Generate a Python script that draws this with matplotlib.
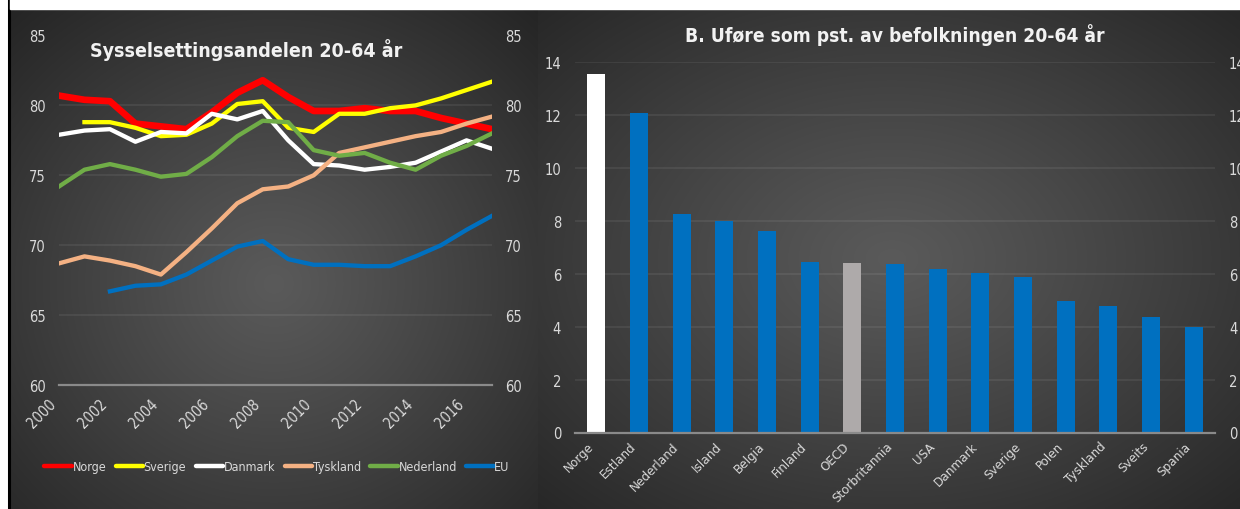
import numpy as np
import matplotlib
matplotlib.use("Agg")
import matplotlib.pyplot as plt
from matplotlib import font_manager
from matplotlib.lines import Line2D

# ---------------- data ----------------
years = list(range(2000, 2018))
nan = np.nan
norge = [80.7, 80.4, 80.3, 78.7, 78.5, 78.3, 79.5, 80.9, 81.8, 80.6, 79.6, 79.6, 79.8, 79.6, 79.6, 79.1, 78.7, 78.3]
sverige = [nan, 78.8, 78.8, 78.4, 77.8, 77.9, 78.7, 80.1, 80.3, 78.4, 78.1, 79.4, 79.4, 79.8, 80.0, 80.5, 81.1, 81.7]
danmark = [77.9, 78.2, 78.3, 77.4, 78.1, 78.0, 79.4, 79.0, 79.6, 77.5, 75.8, 75.7, 75.4, 75.6, 75.9, 76.7, 77.5, 76.9]
tyskland = [68.7, 69.2, 68.9, 68.5, 67.9, 69.5, 71.2, 73.0, 74.0, 74.2, 75.0, 76.6, 77.0, 77.4, 77.8, 78.1, 78.7, 79.2]
nederland = [74.2, 75.4, 75.8, 75.4, 74.9, 75.1, 76.3, 77.8, 78.9, 78.8, 76.8, 76.4, 76.6, 75.9, 75.4, 76.4, 77.1, 78.0]
eu = [nan, nan, 66.7, 67.1, 67.2, 67.9, 68.9, 69.9, 70.3, 69.0, 68.6, 68.6, 68.5, 68.5, 69.2, 70.0, 71.1, 72.1]
series_names = ["Norge", "Sverige", "Danmark", "Tyskland", "Nederland", "EU"]
series_values = [norge, sverige, danmark, tyskland, nederland, eu]
series_colors = ["#FF0000", "#FFFF00", "#FFFFFF", "#F4B183", "#70AD47", "#0070C0"]
year_ticks = list(range(2000, 2017, 2))
left_yticks = [60, 65, 70, 75, 80, 85]

countries = ["Norge", "Estland", "Nederland", "Island", "Belgia", "Finland", "OECD",
             "Storbritannia", "USA", "Danmark", "Sverige", "Polen", "Tyskland", "Sveits", "Spania"]
ufore = [13.55, 12.07, 8.28, 8.0, 7.62, 6.45, 6.4, 6.37, 6.17, 6.05, 5.87, 4.97, 4.77, 4.35, 3.98]
bar_colors = ["#FFFFFF"] + ["#0070C0"] * 5 + ["#AEAAAA"] + ["#0070C0"] * 8
right_yticks = [0, 2, 4, 6, 8, 10, 12, 14]

title_left = "Sysselsettingsandelen 20-64 år"
title_right = "B. Uføre som pst. av befolkningen 20-64 år"

# ---------------- fonts ----------------
entries = font_manager.fontManager.ttflist
names = {f.name for f in entries}
stretch_kw = {}
if "Liberation Sans Narrow" in names:
    FONT = "Liberation Sans Narrow"
elif any(f.name == "DejaVu Sans" and str(f.stretch) == "condensed" for f in entries):
    FONT = "DejaVu Sans"
    stretch_kw = {"fontstretch": "condensed"}
elif "Roboto Condensed" in names:
    FONT = "Roboto Condensed"
else:
    FONT = "Liberation Sans"
plt.rcParams["font.family"] = [FONT, "DejaVu Sans"]
if stretch_kw:
    plt.rcParams["font.stretch"] = "condensed"

TXT = "#D9D9D9"
W, H = 1240, 510
fig = plt.figure(figsize=(12.4, 5.1), dpi=100, facecolor="white")


def fx(px):
    return px / W


def fy(py):
    return 1 - py / H


def gradient_bg(x0, x1, y0, y1, cx, cy):
    ax = fig.add_axes([fx(x0), fy(y1), fx(x1 - x0), (y1 - y0) / H], zorder=0)
    nx, ny = 300, 200
    xs = np.linspace(0, 1, nx)
    ys = np.linspace(0, 1, ny)
    X, Y = np.meshgrid(xs, ys)
    r = np.sqrt(((X - cx) / 0.75) ** 2 + ((Y - cy) / 0.75) ** 2)
    r = np.clip(r, 0, 1)
    c_in, c_out = 0x5A / 255, 0x24 / 255
    v = c_in + (c_out - c_in) * r ** 1.1
    img = np.dstack([v, v, v])
    ax.imshow(img, extent=[0, 1, 0, 1], aspect="auto", origin="upper", interpolation="bilinear")
    ax.set_axis_off()
    return ax


# panel backgrounds
gradient_bg(10, 538, 10, 510, 0.5, 0.55)
gradient_bg(538, 1245, 10, 510, 0.5, 0.5)
# left black border line
fig.add_artist(Line2D([fx(8.5), fx(8.5)], [0, 1], color="black", lw=2.2, transform=fig.transFigure))

# ---------------- left panel ----------------
axl = fig.add_axes([fx(59), fy(386), fx(492 - 59), (386 - 36.5) / H], zorder=2)
axl.patch.set_alpha(0)
for name, vals, col in zip(series_names, series_values, series_colors):
    lw = 4.8 if name == "Norge" else 3.1
    axl.plot(years, vals, color=col, lw=lw, solid_joinstyle="round", zorder=3)
axl.set_xlim(2000, 2017)
axl.set_ylim(60, 85)
axl.set_yticks(left_yticks)
axl.set_xticks(year_ticks)
axl.set_xticklabels([str(y) for y in year_ticks], rotation=45, ha="right")
axl.grid(axis="y", color="#FFFFFF", alpha=0.08, lw=1.2)
axl.set_axisbelow(True)
for s in ["top", "left", "right"]:
    axl.spines[s].set_visible(False)
axl.spines["bottom"].set_color("#8A8A8A")
axl.spines["bottom"].set_linewidth(1.6)
axl.tick_params(axis="y", length=0, pad=9.5, labelsize=10.5, labelcolor=TXT, labelright=True)
axl.tick_params(axis="x", length=0, pad=8, labelsize=10.5, labelcolor=TXT)
fig.text(fx(90), fy(50), title_left, ha="left", va="center", fontsize=14,
         fontweight="bold", color="#F2F2F2")

handles = [Line2D([], [], color=c, lw=3.2, solid_capstyle="round") for c in series_colors]
leg = fig.legend(handles, series_names, loc="center", bbox_to_anchor=(fx(277), fy(468)),
                 bbox_transform=fig.transFigure, ncol=6, frameon=False, fontsize=9,
                 handlelength=2.2, handletextpad=0.05, columnspacing=0.75, labelcolor=TXT)

# ---------------- right panel ----------------
axr = fig.add_axes([fx(575), fy(433.5), fx(1215 - 575), (433.5 - 63.3) / H], zorder=2)
axr.patch.set_alpha(0)
xpos = np.arange(len(countries))
axr.bar(xpos, ufore, width=0.42, color=bar_colors, zorder=3)
axr.set_xlim(-0.5, len(countries) - 0.5)
axr.set_ylim(0, 14)
axr.set_yticks(right_yticks)
axr.set_xticks(xpos)
axr.set_xticklabels(countries, rotation=45, ha="right")
axr.grid(axis="y", color="#FFFFFF", alpha=0.08, lw=1.2)
axr.set_axisbelow(True)
for s in ["top", "left", "right"]:
    axr.spines[s].set_visible(False)
axr.spines["bottom"].set_color("#8A8A8A")
axr.spines["bottom"].set_linewidth(1.6)
axr.spines["bottom"].set_zorder(4)
axr.tick_params(axis="y", length=0, pad=10, labelsize=10.5, labelcolor=TXT, labelright=True)
axr.tick_params(axis="x", length=0, pad=5, labelsize=9.6, labelcolor=TXT)
fig.text(fx(895), fy(35), title_right, ha="center", va="center", fontsize=13.8,
         fontweight="bold", color="#F2F2F2")

# white top strip
fig.add_artist(plt.Rectangle((fx(10), fy(10)), 1, 10 / H, transform=fig.transFigure,
                             color="white", zorder=10))

fig.savefig("out.png", dpi=100, facecolor="white")
